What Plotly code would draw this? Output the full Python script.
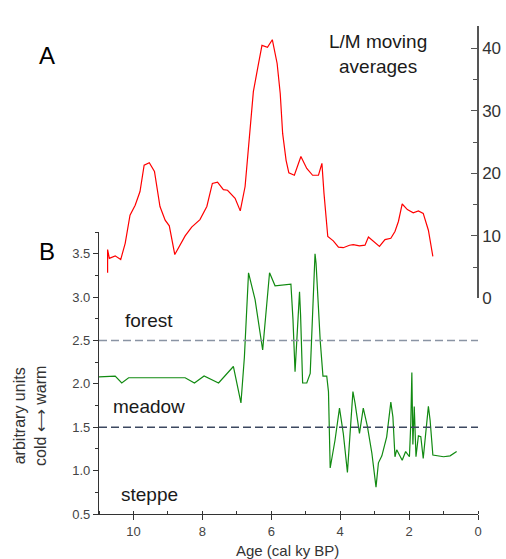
import plotly.graph_objects as go

# L/M moving averages (right axis)
lm_age = [10.75, 10.75, 10.70, 10.53, 10.37, 10.24, 10.10, 9.95, 9.81, 9.69, 9.54, 9.39, 9.23, 9.08,
          8.96, 8.80, 8.50, 8.31, 8.07, 7.87, 7.71, 7.56, 7.39, 7.27, 7.05, 6.90, 6.76, 6.66, 6.52,
          6.38, 6.27, 6.11, 5.97, 5.83, 5.74, 5.67, 5.57, 5.49, 5.33, 5.14, 4.97, 4.80, 4.63, 4.53,
          4.47, 4.36, 4.20, 4.05, 3.91, 3.73, 3.62, 3.44, 3.28, 3.18, 3.04, 2.86, 2.70, 2.53, 2.41,
          2.31, 2.20, 2.05, 1.88, 1.73, 1.59, 1.44, 1.31]
lm_val = [4.1, 7.8, 6.4, 6.8, 6.2, 8.8, 13.3, 14.9, 17.1, 21.3, 21.7, 20.3, 14.7, 12.5,
          11.6, 7.0, 10.0, 11.4, 12.6, 14.7, 18.4, 18.6, 17.4, 17.3, 16.0, 14.0, 17.9, 23.7, 33.1,
          37.3, 40.5, 40.2, 41.4, 37.6, 32.8, 26.4, 22.1, 20.1, 19.7, 22.7, 20.8, 19.7, 19.7, 21.6,
          16.8, 9.9, 9.2, 8.2, 8.1, 8.5, 8.6, 8.4, 8.5, 9.8, 9.2, 8.3, 9.4, 9.6, 10.7,
          12.3, 15.1, 14.2, 13.7, 14.0, 13.6, 10.9, 6.7]

# Vegetation index (left axis)
veg_age = [11.0, 10.68, 10.53, 10.34, 10.14, 8.50, 8.23, 7.95, 7.53, 7.10, 6.88, 6.78, 6.66,
           6.47, 6.25, 6.05, 5.89, 5.43, 5.37, 5.31, 5.24, 5.18, 5.15, 5.09, 4.97, 4.87, 4.73,
           4.70, 4.58, 4.50, 4.39, 4.34, 4.29, 4.15, 4.02, 3.91, 3.79, 3.73, 3.63, 3.57, 3.44,
           3.33, 3.21, 3.08, 2.96, 2.89, 2.79, 2.65, 2.53, 2.47, 2.41, 2.36, 2.29, 2.20, 2.10,
           1.99, 1.95, 1.92, 1.89, 1.85, 1.80, 1.73, 1.66, 1.59, 1.44, 1.39, 1.31, 1.00, 0.81, 0.62]
veg_val = [2.08, 2.09, 2.09, 2.01, 2.07, 2.07, 2.01, 2.09, 2.01, 2.20, 1.78, 2.31, 3.28,
           2.97, 2.39, 3.28, 3.13, 3.15, 2.74, 2.14, 2.58, 3.06, 2.80, 2.01, 2.01, 2.12, 3.50,
           3.39, 2.50, 2.09, 2.09, 1.91, 1.03, 1.35, 1.72, 1.43, 0.98, 1.35, 1.91, 1.78, 1.43,
           1.72, 1.51, 1.20, 0.81, 1.09, 1.17, 1.39, 1.79, 1.62, 1.16, 1.24, 1.18, 1.12, 1.22,
           1.16, 1.55, 2.13, 1.30, 1.74, 1.16, 1.40, 1.39, 1.14, 1.74, 1.58, 1.18, 1.16, 1.17, 1.22]

x_ticks = [10, 8, 6, 4, 2, 0]
boundaries = [2.5, 1.5]
boundary_colors = ["#8a94a4", "#3c4860"]
zone_labels = ["forest", "meadow", "steppe"]
zone_label_y = [2.735, 1.74, 0.73]
zone_label_x = [9.54, 9.54, 9.54]

FONT = "Liberation Sans, Arial, sans-serif"

# pixel geometry of the plotting area
L, R, T, B = 99, 478, 26, 514
W, H = R - L, B - T


def px(xp):
    return (xp - L) / W


def py(yp):
    return (B - yp) / H


fig = go.Figure()
fig.add_trace(go.Scatter(x=lm_age, y=lm_val, mode="lines", xaxis="x", yaxis="y2",
                         line=dict(color="#ff0000", width=1.2), showlegend=False))
fig.add_trace(go.Scatter(x=veg_age, y=veg_val, mode="lines", xaxis="x", yaxis="y",
                         line=dict(color="#118a11", width=1.2), showlegend=False))

for b, c in zip(boundaries, boundary_colors):
    fig.add_shape(type="line", xref="x", yref="y", x0=11, x1=0, y0=b, y1=b,
                  line=dict(color=c, width=1.5, dash="8px,4px"))

for t, yy, xx in zip(zone_labels, zone_label_y, zone_label_x):
    fig.add_annotation(x=xx, y=yy, xref="x", yref="y", text=t, showarrow=False,
                       xanchor="center", yanchor="middle",
                       font=dict(family=FONT, size=19, color="#1a1a1a"))

fig.add_annotation(xref="paper", yref="paper", x=px(47), y=py(55), text="A", showarrow=False,
                   xanchor="center", yanchor="middle", font=dict(family=FONT, size=24, color="#000"))
fig.add_annotation(xref="paper", yref="paper", x=px(47), y=py(251), text="B", showarrow=False,
                   xanchor="center", yanchor="middle", font=dict(family=FONT, size=24, color="#000"))
fig.add_annotation(xref="paper", yref="paper", x=px(378), y=py(54),
                   text="L/M moving<br>averages", showarrow=False, xanchor="center", yanchor="middle",
                   font=dict(family=FONT, size=19, color="#1a1a1a"))
fig.add_annotation(xref="paper", yref="paper", x=px(30), y=py(416),
                   text="arbitrary units<br>cold ⟷ warm", showarrow=False, textangle=-90,
                   xanchor="center", yanchor="middle",
                   font=dict(family=FONT, size=16, color="#333"))
fig.add_annotation(xref="paper", yref="paper", x=px(287), y=py(550),
                   text="Age (cal ky BP)", showarrow=False,
                   xanchor="center", yanchor="middle",
                   font=dict(family=FONT, size=15, color="#333"))

fig.update_layout(
    width=506, height=559,
    margin=dict(l=L, r=506 - R, t=T, b=559 - B, autoexpand=False),
    paper_bgcolor="white", plot_bgcolor="rgba(0,0,0,0)",
    font=dict(family=FONT, color="#222"),
    xaxis=dict(range=[11, 0], tickvals=x_ticks, ticks="outside", ticklen=5, tickwidth=1,
               tickcolor="#333", showline=True, linecolor="#333", linewidth=1.2,
               showgrid=False, zeroline=False, tickfont=dict(family=FONT, size=13, color="#444"),
               anchor="y", automargin=False,
               minor=dict(dtick=1, tick0=0, ticks="inside", ticklen=3, tickcolor="#333")),
    yaxis=dict(domain=[0, py(232)], range=[0.5, 3.75], dtick=0.5, tick0=0.5,
               tickformat=".1f", ticks="outside", ticklen=5, tickcolor="#333",
               showline=True, linecolor="#333", linewidth=1.2, showgrid=False, zeroline=False,
               tickfont=dict(family=FONT, size=13, color="#444"), automargin=False,
               minor=dict(dtick=0.25, ticks="outside", ticklen=3, tickcolor="#333")),
    yaxis2=dict(domain=[py(298.3), 1], range=[0, 43.6], dtick=10, side="right",
                anchor="free", position=1, ticks="inside", ticklen=6, tickcolor="#555",
                showline=True, linecolor="#555", linewidth=1.5, showgrid=False, zeroline=False,
                tickfont=dict(family=FONT, size=17, color="#333"), automargin=False,
                minor=dict(dtick=5, ticks="inside", ticklen=4, tickcolor="#555")),
)

fig.write_html("out.html")
